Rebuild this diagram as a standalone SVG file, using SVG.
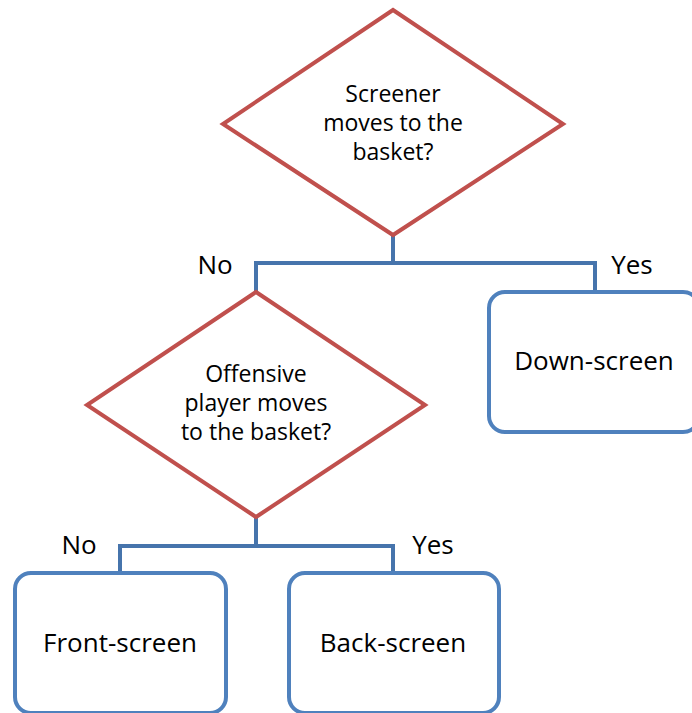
<svg xmlns="http://www.w3.org/2000/svg" width="692" height="713" viewBox="0 0 692 713">
<style>
.dia{fill:#fff;stroke:#C0504D;stroke-width:4;stroke-linejoin:miter}
.box{fill:#fff;stroke:#4F81BD;stroke-width:4}
.con{fill:none;stroke:#4674AC;stroke-width:4;stroke-linejoin:miter}
text{font-family:"Open Sans","Liberation Sans",sans-serif;fill:#000;text-anchor:middle}
.dt{font-size:23px}
.bt{font-size:26px}
.lb{font-size:26px}
</style>
<rect width="692" height="713" fill="#fff"/>
<g id="connectors">
<path class="con" d="M393,235 V263 M256,292 V263 H595 V292"/>
<path class="con" d="M256,517 V546 M120,573 V546 H393 V573"/>
</g>
<g id="q1">
<polygon class="dia" points="393,10 563,124 393,235 223,124"/>
<text class="dt" x="393" y="102">Screener</text>
<text class="dt" x="393" y="131">moves to the</text>
<text class="dt" x="393" y="160">basket?</text>
</g>
<g id="q2">
<polygon class="dia" points="256,292 425,405 256,517 87,405"/>
<text class="dt" x="256" y="382">Offensive</text>
<text class="dt" x="256" y="411">player moves</text>
<text class="dt" x="256" y="440">to the basket?</text>
</g>
<g id="down">
<rect class="box" x="489" y="292" width="210" height="140" rx="16"/>
<text class="bt" x="594" y="370">Down-screen</text>
</g>
<g id="front">
<rect class="box" x="15" y="573" width="211" height="140" rx="16"/>
<text class="bt" x="120" y="652">Front-screen</text>
</g>
<g id="back">
<rect class="box" x="289" y="573" width="210" height="140" rx="16"/>
<text class="bt" x="393" y="652">Back-screen</text>
</g>
<g id="labels">
<text class="lb" x="215" y="274">No</text>
<text class="lb" x="632" y="274">Yes</text>
<text class="lb" x="79" y="554">No</text>
<text class="lb" x="433" y="554">Yes</text>
</g>
</svg>
